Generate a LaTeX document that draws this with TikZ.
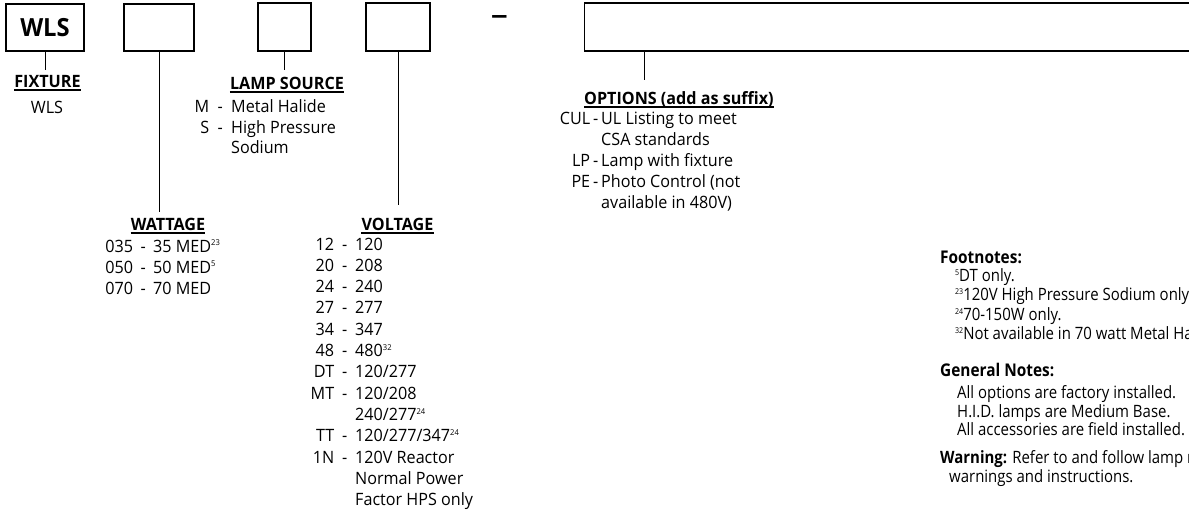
\documentclass[tikz,border=0pt]{standalone}
\usepackage{fontspec}
\setmainfont[FakeStretch=0.95]{Open Sans}
\newfontfamily\fnfont[FakeStretch=0.88]{Open Sans}
\newcommand\msup[1]{\raisebox{6.3pt}{\fontsize{8}{8}\selectfont #1}}
\newcommand\fsup[1]{\raisebox{6pt}{\fontsize{8}{8}\selectfont #1}}
\newcommand\crow[6]{\node[txt] (#1) at (#2-40,#4) {\makebox[40pt][r]{#5}\makebox[\dimexpr#3pt-#2pt\relax][c]{-}#6};}
\begin{document}
\begin{tikzpicture}[x=1pt,y=-1pt,
  box/.style={draw, line width=1.3pt, inner sep=0pt},
  conn/.style={line width=1pt},
  hdr/.style={font=\bfseries\fontsize{17}{20}\selectfont, inner sep=0pt, anchor=base},
  uline/.style={line width=1.3pt},
  txt/.style={font=\fontsize{17}{20}\selectfont, inner sep=0pt, anchor=base west},
  fn/.style={font=\fnfont\fontsize{17}{20}\selectfont, inner sep=0pt, anchor=base west},
  fnh/.style={font=\fnfont\bfseries\fontsize{17.5}{20}\selectfont, inner sep=0pt, anchor=base west}]
\useasboundingbox (0,0) rectangle (1189,512);
\clip (0,0) rectangle (1189,512);
% boxes
\node[box, minimum width=78pt, minimum height=47pt, font=\bfseries\fontsize{25}{25}\selectfont] (b1) at (45,27.5) {WLS};
\node[box, minimum width=70pt, minimum height=47pt] (b2) at (159,27.5) {};
\node[box, minimum width=53pt, minimum height=48pt] (b3) at (284.5,27) {};
\node[box, minimum width=64pt, minimum height=48pt] (b4) at (398,27) {};
\node[box, minimum width=700pt, minimum height=48pt, anchor=west] (b5) at (584,27) {};
\node[font=\fontsize{36}{36}\selectfont, inner sep=0pt, anchor=base] (hy) at (499.5,26) {–};
% connectors
\coordinate (c1) at (45,70);
\coordinate (c2) at (159,212);
\coordinate (c3) at (284.5,70);
\coordinate (c4) at (398,205);
\coordinate (c5) at (644,80);
\draw[conn] (b1.south) -- (c1);
\draw[conn] (b2.south) -- (c2);
\draw[conn] (b3.south) -- (c3);
\draw[conn] (b4.south) -- (c4);
\draw[conn] (b5.south west -| c5) -- (c5);
% headers
\node[hdr] (hfix) at (47.5,87) {FIXTURE};
\node[hdr] (hlamp) at (287,89) {LAMP SOURCE};
\node[hdr] (hwatt) at (168,230) {WATTAGE};
\node[hdr] (hvolt) at (397.5,230) {VOLTAGE};
\node[hdr, anchor=base west] (hopt) at (584,104) {OPTIONS (add as suffix)};
\foreach \h in {hfix,hlamp,hwatt,hvolt,hopt}
  \draw[uline] ([yshift=-3pt]\h.base west) -- ([yshift=-3pt]\h.base east);
% fixture
\node[txt, anchor=base] (fwls) at (47,113) {WLS};
% lamp source
\crow{lm}{209}{231}{112}{M}{Metal Halide}
\crow{ls}{209}{231}{133}{S}{High Pressure}
\node[txt] (ls2) at (231,153) {Sodium};
% wattage
\crow{w1}{133}{153}{252}{035}{35 MED\msup{23}}
\crow{w2}{133}{153}{273}{050}{50 MED\msup{5}}
\crow{w3}{133}{153}{294}{070}{70 MED}
% voltage
\crow{v1}{334}{355}{250}{12}{120}
\crow{v2}{334}{355}{271.3}{20}{208}
\crow{v3}{334}{355}{292.6}{24}{240}
\crow{v4}{334}{355}{313.9}{27}{277}
\crow{v5}{334}{355}{335.2}{34}{347}
\crow{v6}{334}{355}{356.5}{48}{480\msup{32}}
\crow{v7}{334}{355}{377.8}{DT}{120/277}
\crow{v8}{334}{355}{399.1}{MT}{120/208}
\node[txt] (v8b) at (355,420.4) {240/277\msup{24}};
\crow{v9}{334}{355}{441.7}{TT}{120/277/347\msup{24}}
\crow{v10}{334}{355}{463}{1N}{120V Reactor}
\node[txt] (v10b) at (355,484.3) {Normal Power};
\node[txt] (v10c) at (355,505.6) {Factor HPS only};
% options
\crow{o1}{590}{601}{124}{CUL}{UL Listing to meet}
\node[txt] (o1b) at (601,145.5) {CSA standards};
\crow{o2}{590}{601}{166.5}{LP}{Lamp with fixture}
\crow{o3}{590}{601}{187.5}{PE}{Photo Control (not}
\node[txt] (o3b) at (601,208.5) {available in 480V)};
% footnotes
\node[fnh] (fnh) at (940,263) {Footnotes:};
\node[fn] (fn1) at (955,281) {\fsup{5}DT only.};
\node[fn] (fn2) at (955,300) {\fsup{23}120V High Pressure Sodium only.};
\node[fn] (fn3) at (955,320) {\fsup{24}70-150W only.};
\node[fn] (fn4) at (955,339) {\fsup{32}Not available in 70 watt Metal Halide.};
\node[fnh] (gnh) at (940,376) {General Notes:};
\node[fn] (g1) at (957,398) {All options are factory installed.};
\node[fn] (g2) at (957,417) {H.I.D. lamps are Medium Base.};
\node[fn] (g3) at (957,435) {All accessories are field installed.};
\node[fn] (wn1) at (940,463) {\textbf{Warning:} Refer to and follow lamp manufacturer's};
\node[fn] (wn2) at (949,482) {warnings and instructions.};
\end{tikzpicture}
\end{document}
